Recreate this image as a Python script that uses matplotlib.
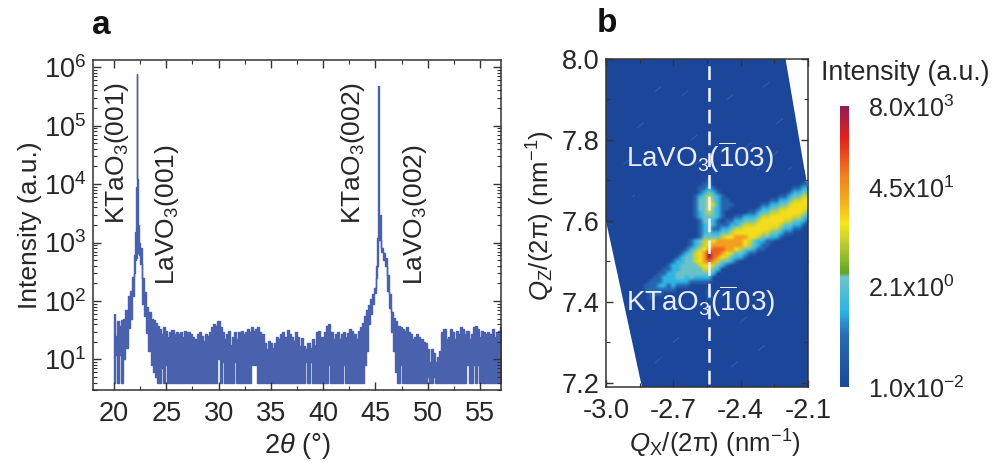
import numpy as np
import matplotlib
matplotlib.use('Agg')
import matplotlib.pyplot as plt
from matplotlib.colors import LinearSegmentedColormap
from matplotlib.patches import Polygon
from matplotlib.ticker import MultipleLocator, LogLocator, NullFormatter

plt.rcParams['font.family'] = ['Liberation Sans', 'DejaVu Sans']
plt.rcParams['mathtext.fontset'] = 'custom'
plt.rcParams['mathtext.rm'] = 'Liberation Sans'
plt.rcParams['mathtext.it'] = 'Liberation Sans:italic'
plt.rcParams['mathtext.bf'] = 'Liberation Sans:bold'
plt.rcParams['mathtext.default'] = 'regular'

W, H = 994, 463
TEXT = '#262626'
LINE = '#4a62ad'

# panel a, upper and lower edge of the noisy trace, one value every 0.2 deg from 20 to 57
tth_grid = np.arange(186) * 0.2 + 20.0
i_upper = [
    60, 25, 45, 38, 48, 50, 70, 120, 150, 260,
    600, 750000, 1000, 800, 250, 140, 80, 65, 50, 48,
    42, 38, 33, 27, 36, 31, 24, 29, 32, 27,
    30, 27, 29, 24, 31, 29, 30, 27, 24, 22,
    27, 29, 25, 21, 27, 25, 30, 36, 40, 38,
    46, 36, 30, 22, 27, 31, 18, 24, 29, 22,
    29, 31, 27, 30, 33, 29, 36, 31, 33, 36,
    29, 27, 19, 15, 21, 19, 16, 19, 24, 22,
    27, 29, 24, 32, 27, 24, 21, 29, 24, 17,
    23, 17, 15, 19, 16, 22, 18, 29, 31, 24,
    24, 30, 38, 40, 30, 22, 27, 30, 22, 27,
    29, 24, 28, 33, 31, 27, 22, 31, 36, 42,
    55, 70, 85, 110, 130, 170, 1200, 3000, 800, 650,
    550, 280, 130, 65, 52, 46, 38, 36, 33, 31,
    36, 29, 27, 22, 24, 27, 24, 22, 20, 19,
    15, 9, 15, 13, 9, 11, 14, 30, 33, 22,
    24, 33, 29, 22, 31, 27, 36, 33, 27, 31,
    22, 27, 36, 38, 33, 24, 31, 29, 27, 30,
    27, 33, 24, 29, 31, 36,
]
i_lower = [
    4, 12, 4, 12, 4, 10, 16, 35, 50, 120,
    300, 650, 600, 430, 90, 55, 28, 14, 8, 6,
    5, 4, 4, 7, 4, 8, 4, 4, 4, 4,
    4, 4, 4, 4, 4, 4, 4, 4, 4, 4,
    4, 4, 4, 4, 4, 4, 4, 4, 4, 4,
    10, 4, 9, 4, 4, 4, 4, 4, 9, 4,
    4, 4, 4, 4, 4, 4, 8, 8, 8, 4,
    4, 4, 4, 4, 4, 4, 4, 4, 4, 4,
    4, 4, 4, 4, 4, 4, 4, 4, 4, 4,
    4, 4, 9, 4, 9, 4, 4, 4, 4, 4,
    4, 4, 4, 8, 4, 4, 4, 4, 4, 4,
    8, 4, 4, 4, 4, 4, 4, 4, 4, 4,
    8, 14, 40, 60, 90, 135, 400, 1100, 700, 500,
    400, 150, 77, 30, 14, 6, 4, 8, 4, 4,
    4, 4, 4, 4, 4, 4, 4, 4, 4, 4,
    5, 4, 4, 5, 4, 4, 4, 4, 4, 4,
    4, 4, 4, 4, 4, 4, 4, 4, 4, 8,
    4, 4, 8, 4, 8, 4, 4, 4, 4, 4,
    4, 4, 4, 4, 4, 4,
]

# the two substrate peaks need a finer step than the grid above
tth_peak = [22.1, 22.15, 22.25, 22.3, 45.1, 45.25, 45.3, 45.35]
i_peak_upper = [1500, 9000, 12000, 2000, 400, 15000, 480000, 18000]
i_peak_lower = [500, 550, 700, 650, 250, 700, 1100, 1200]

# panel a annotations: label, 2theta, intensity at the start of the text
film_labels = ['KTaO$_3$(001)', 'LaVO$_3$(001)', 'KTaO$_3$(002)', 'LaVO$_3$(002)']
film_tth = [20.3, 25.05, 42.9, 48.8]
film_i = [2040, 190, 2040, 190]

# panel b, colour level 0-9, 0.02 step in Qx and 0.01 step in Qz
map_qx0 = -2.86
map_qz0 = 7.72
map_rows = [
    '000000000000000000000000000000000000000',
    '000000000000000000000000000000000000000',
    '000000000000000010000000000000000000001',
    '000000000000000110000000000000000000011',
    '000000000000001121000000000000000001122',
    '000000000000001232100000000000000012233',
    '000000000000012353210000000000001123355',
    '000000000000013363211000000000112235566',
    '000000000000013365211100000011223356666',
    '000000000000013363211000000122335566665',
    '000000000000012353210000011233556666653',
    '000000000000012333210011222355666665532',
    '000000000000001332101122333566666553321',
    '000000000000001232111223555666665332210',
    '000000000000001231122355666666553221100',
    '000000000000001232233566666655332110000',
    '000000000000001333356677766533221000000',
    '000000000000123556777777653221100000000',
    '000000000000123567777777653211000000000',
    '000000000001235678887765332110000000000',
    '000000000012356798876533211000000000000',
    '000000000123356798765322100000000000000',
    '000000001223356787533210000000000000000',
    '000000012233335665321000000000000000000',
    '000000112233333553200000000000000000000',
    '000001122333333332000000000000000000000',
    '000011222332322220000000000000000000000',
    '000111222222111110000000000000000000000',
    '001112212111000000000000000000000000000',
    '001111111000000010000000000000000000000',
    '000111000000000010000000000000000000000',
    '000100000000000010000000000000000000000',
    '000000000000000000000000000000000000000',
]
map_step_qx = 0.02
map_step_qz = 0.01
# position of each digit on the colour bar
level_frac = [0.0, 0.15, 0.28, 0.38, 0.44, 0.53, 0.59, 0.69, 0.80, 0.97]

# outline of the measured area in reciprocal space
scan_qx = [-3.0, -2.2, -2.1, -2.1, -2.84, -3.0]
scan_qz = [8.0, 8.0, 7.675, 7.19, 7.19, 7.6]

# faint diffuse streaks on the background
streak_qx = [-2.92, -2.86, -2.78, -2.70, -2.62, -2.88, -2.76, -2.66, -2.60,
             -2.46, -2.38, -2.30, -2.24, -2.44, -2.34, -2.26, -2.20, -2.48,
             -2.40, -2.32, -2.22, -2.70, -2.78, -2.50, -2.36, -2.16, -2.44, -2.30]
streak_qz = [7.74, 7.83, 7.92, 7.71, 7.80, 7.66, 7.60, 7.91, 7.74,
             7.90, 7.78, 7.93, 7.84, 7.70, 7.72, 7.76, 7.72, 7.57,
             7.35, 7.28, 7.40, 7.30, 7.25, 7.42, 7.46, 7.46, 7.24, 7.50]

cbar_fracs = [0, 0.357, 0.71, 1]
cbar_labels = ['1.0x10$^{-2}$', '2.1x10$^{0}$', '4.5x10$^{1}$', '8.0x10$^{3}$']

map_cmap = LinearSegmentedColormap.from_list('rsm', [
    (0.0, '#1c4699'), (0.185, '#2a6db5'), (0.27, '#2ab4e4'), (0.39, '#6fc4c8'),
    (0.405, '#5fa52a'), (0.52, '#c5d030'), (0.58, '#f5e61e'), (0.67, '#f5a81e'),
    (0.755, '#ee8020'), (0.887, '#e6201e'), (1.0, '#8f1f55'),
])


def axes_px(left, top, right, bottom):
    return [left / W, 1 - bottom / H, (right - left) / W, (bottom - top) / H]


def style_spines(ax):
    for spine in ax.spines.values():
        spine.set_linewidth(1.1)
        spine.set_color('#333333')


fig = plt.figure(figsize=(W / 100, H / 100), dpi=100)

# ---- panel a
ax1 = fig.add_axes(axes_px(93, 60.5, 501, 390))
x_all = np.concatenate([tth_grid, tth_peak])
upper_all = np.concatenate([i_upper, i_peak_upper])
lower_all = np.concatenate([i_lower, i_peak_lower])
order = np.argsort(x_all)
ax1.fill_between(x_all[order], lower_all[order], upper_all[order], step='mid',
                 color=LINE, lw=1.0)
ax1.set_yscale('log')
ax1.set_xlim(18, 57)
ax1.set_ylim(3, 1.3e6)
ax1.xaxis.set_major_locator(MultipleLocator(5))
ax1.xaxis.set_minor_locator(MultipleLocator(2.5))
ax1.yaxis.set_major_locator(LogLocator(base=10, numticks=10))
ax1.yaxis.set_minor_locator(LogLocator(base=10, subs=np.arange(2, 10), numticks=10))
ax1.yaxis.set_minor_formatter(NullFormatter())
ax1.tick_params(which='major', direction='in', top=True, right=True, length=6, width=1,
                labelsize=19.5, labelcolor=TEXT, color='#333333', pad=5)
ax1.tick_params(which='minor', direction='in', top=True, right=True, length=3, width=0.8,
                color='#333333')
ax1.tick_params(axis='x', which='major', pad=8)
ax1.set_xlabel(r'2$\mathit{\theta}$ (°)', fontsize=19.5, color=TEXT, labelpad=3)
ax1.set_ylabel('Intensity (a.u.)', fontsize=19, color=TEXT, labelpad=1)
style_spines(ax1)
for label, t, i in zip(film_labels, film_tth, film_i):
    ax1.text(t, i, label, rotation=90, ha='center', va='bottom', fontsize=19, color=TEXT)

# ---- panel b
ax2 = fig.add_axes(axes_px(606, 59, 808, 387))
scan = Polygon(np.column_stack([scan_qx, scan_qz]), closed=True, transform=ax2.transData,
               facecolor=map_cmap(0.0), edgecolor='none', zorder=1)
ax2.add_patch(scan)
for qx, qz in zip(streak_qx, streak_qz):
    ax2.plot([qx, qx + 0.025], [qz, qz + 0.012], color='#3f7cc6', lw=0.8, alpha=0.45, zorder=1.5)

levels = np.array([[level_frac[int(c)] for c in row] for row in map_rows], dtype=float)
nrows, ncols = levels.shape
extent = (map_qx0 - map_step_qx / 2, map_qx0 + (ncols - 0.5) * map_step_qx,
          map_qz0 - (nrows - 0.5) * map_step_qz, map_qz0 + map_step_qz / 2)
im = ax2.imshow(levels, extent=extent, cmap=map_cmap, vmin=0, vmax=1, origin='upper',
                aspect='auto', interpolation='bilinear', interpolation_stage='rgba', zorder=2)
im.set_clip_path(scan)

ax2.axvline(-2.54, ymin=0.01, ymax=0.99, color='#f4f6fa', lw=1.8, dashes=(5.5, 3.2), zorder=3)
ax2.set_xlim(-3.0, -2.1)
ax2.set_ylim(7.19, 8.0)
ax2.set_xticks([-3.0, -2.7, -2.4, -2.1])
ax2.set_xticklabels(['-3.0', '-2.7', '-2.4', '-2.1'])
ax2.set_yticks([7.2, 7.4, 7.6, 7.8, 8.0])
ax2.xaxis.set_minor_locator(MultipleLocator(0.15))
ax2.yaxis.set_minor_locator(MultipleLocator(0.1))
ax2.tick_params(which='major', direction='in', top=True, right=True, length=5, width=1,
                labelsize=19.5, labelcolor=TEXT, color='#333333', pad=5)
ax2.tick_params(which='minor', direction='in', top=True, right=True, length=3, width=0.8,
                color='#333333')
ax2.tick_params(axis='x', which='major', pad=8)
ax2.set_xlabel(r'$\mathit{Q}_{X}$/(2π) (nm$^{-1}$)', fontsize=18.6, color=TEXT, labelpad=3, x=0.54)
ax2.set_ylabel(r'$\mathit{Q}_{Z}$/(2π) (nm$^{-1}$)', fontsize=18.6, color=TEXT, labelpad=3, y=0.522)
style_spines(ax2)
ax2.text(-2.58, 7.757, r'LaVO$_3$($\overline{1}$03)', ha='center', va='center', fontsize=20,
         color='#e9eef6', zorder=4)
ax2.text(-2.58, 7.402, r'KTaO$_3$($\overline{1}$03)', ha='center', va='center', fontsize=20,
         color='#e9eef6', zorder=4)

# ---- colour bar
cax = fig.add_axes(axes_px(840, 106, 849, 387))
sm = plt.cm.ScalarMappable(norm=plt.Normalize(0, 1), cmap=map_cmap)
cb = fig.colorbar(sm, cax=cax)
cb.set_ticks(cbar_fracs)
cb.set_ticklabels(cbar_labels)
cb.outline.set_visible(False)
cax.tick_params(length=0, labelsize=18, labelcolor=TEXT, pad=14)
fig.text(905 / W, 1 - 73 / H, 'Intensity (a.u.)', ha='center', va='center', fontsize=19.2, color=TEXT)

# panel letters
fig.text(92 / W, 1 - 25 / H, 'a', fontsize=24, fontweight='bold', color='#111111', va='center')
fig.text(597 / W, 1 - 23 / H, 'b', fontsize=24, fontweight='bold', color='#111111', va='center')

fig.savefig('out.png', dpi=100)
